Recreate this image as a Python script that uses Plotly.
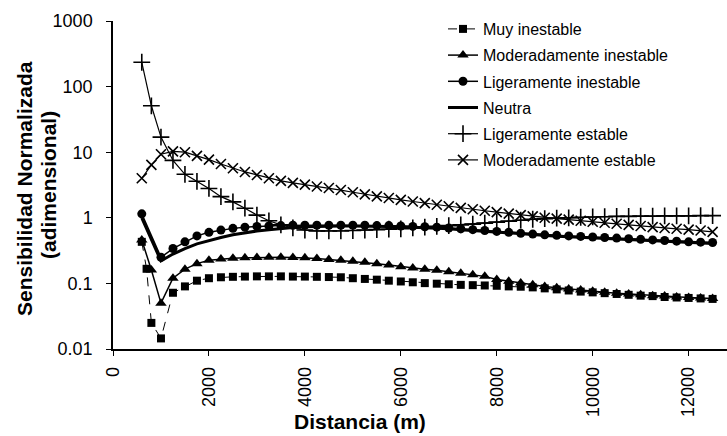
import plotly.graph_objects as go

# Distancia a la fuente (m)
distancias = [600, 700, 800, 1000, 1250, 1500, 1750, 2000, 2250, 2500, 2750, 3000,
              3250, 3500, 3750, 4000, 4250, 4500, 4750, 5000, 5250, 5500, 5750, 6000,
              6250, 6500, 6750, 7000, 7250, 7500, 7750, 8000, 8250, 8500, 8750, 9000,
              9250, 9500, 9750, 10000, 10250, 10500, 10750, 11000, 11250, 11500, 11750,
              12000, 12250, 12500]

muy_inestable = [0.43, 0.167, 0.025, 0.0145, 0.072, 0.09, 0.11, 0.12, 0.124, 0.126, 0.127, 0.128,
                 0.128, 0.128, 0.127, 0.127, 0.126, 0.125, 0.124, 0.12, 0.117, 0.114, 0.11, 0.107,
                 0.104, 0.101, 0.099, 0.097, 0.095, 0.094, 0.093, 0.092, 0.09, 0.089, 0.087, 0.084,
                 0.081, 0.078, 0.075, 0.073, 0.071, 0.069, 0.067, 0.065, 0.064, 0.062, 0.061,
                 0.06, 0.059, 0.058]

mod_inestable = [0.46, None, 0.16, 0.05, 0.12, 0.165, 0.2, 0.225, 0.235, 0.242, 0.245, 0.248,
                 0.25, 0.25, 0.248, 0.245, 0.24, 0.232, 0.225, 0.218, 0.21, 0.2, 0.19, 0.18,
                 0.172, 0.165, 0.158, 0.15, 0.143, 0.135, 0.128, 0.115, 0.108, 0.101, 0.095, 0.09,
                 0.086, 0.082, 0.079, 0.076, 0.073, 0.071, 0.069, 0.067, 0.065, 0.064, 0.062,
                 0.061, 0.06, 0.059]

lig_inestable = [1.15, None, None, 0.25, 0.34, 0.43, 0.53, 0.6, 0.65, 0.69, 0.72, 0.74,
                 0.75, 0.76, 0.77, 0.77, 0.77, 0.77, 0.77, 0.77, 0.77, 0.76, 0.76, 0.75,
                 0.74, 0.73, 0.72, 0.7, 0.68, 0.66, 0.64, 0.62, 0.6, 0.58, 0.565, 0.55,
                 0.54, 0.53, 0.52, 0.51, 0.5, 0.49, 0.48, 0.47, 0.46, 0.45, 0.44,
                 0.43, 0.425, 0.42]

neutra = [1.0, None, None, 0.22, 0.28, 0.34, 0.4, 0.45, 0.5, 0.55, 0.59, 0.63,
          0.66, 0.69, 0.71, 0.73, 0.74, 0.75, 0.75, 0.75, 0.75, 0.74, 0.74, 0.73,
          0.72, 0.71, 0.7, 0.68, 0.66, 0.64, 0.62, 0.6, 0.58, 0.565, 0.55, 0.535,
          0.525, 0.515, 0.505, 0.495, 0.485, 0.475, 0.465, 0.455, 0.445, 0.435, 0.425,
          0.415, 0.41, 0.405]

lig_estable = [235, None, 51, 17, 7.5, 4.6, 3.6, 2.8, 2.1, 1.75, 1.4, 1.1,
               0.9, 0.78, 0.7, 0.65, 0.63, 0.63, 0.63, 0.64, 0.65, 0.66, 0.67, 0.68,
               0.7, 0.72, 0.74, 0.76, 0.78, 0.8, 0.83, 0.86, 0.89, 0.92, 0.95, 0.97,
               0.99, 1.0, 1.02, 1.03, 1.04, 1.05, 1.05, 1.06, 1.06, 1.07, 1.07,
               1.07, 1.08, 1.08]

mod_estable = [4.0, None, 6.4, 9.3, 10.3, 10.0, 8.8, 7.7, 6.6, 5.7, 5.0, 4.5,
               4.0, 3.65, 3.4, 3.2, 3.0, 2.85, 2.65, 2.45, 2.28, 2.12, 2.0, 1.88,
               1.77, 1.67, 1.58, 1.5, 1.42, 1.35, 1.28, 1.22, 1.16, 1.1, 1.05, 1.0,
               0.97, 0.94, 0.9, 0.87, 0.84, 0.81, 0.78, 0.75, 0.72, 0.7, 0.68,
               0.66, 0.64, 0.61]

x_ticks = [0, 2000, 4000, 6000, 8000, 10000, 12000]
x_tick_text = ["0", "2000", "4000", "6000", "8000", "10000", "12000"]
y_ticks = [0.01, 0.1, 1, 10, 100, 1000]
y_tick_text = ["0.01", "0.1", "1", "10", "100", "1000"]

FONT = "Liberation Sans, Arial, sans-serif"
W, H = 727, 436
ML, MR, MT, MB = 113, 0, 21, 87
PW, PH = W - ML - MR, H - MT - MB


def px_x(p):
    return (p - ML) / PW


def px_y(p):
    return (H - MB - p) / PH


series = [
    ("Muy inestable", muy_inestable, dict(symbol="square", size=8), dict(width=1, dash="dash")),
    ("Moderadamente inestable", mod_inestable, dict(symbol="triangle-up", size=10), dict(width=1.5)),
    ("Ligeramente inestable", lig_inestable, dict(symbol="circle", size=9), dict(width=1.5)),
    ("Neutra", neutra, None, dict(width=3)),
    ("Ligeramente estable", lig_estable,
     dict(symbol="cross-thin", size=12, line=dict(width=1.6, color="black")), dict(width=1.2)),
    ("Moderadamente estable", mod_estable,
     dict(symbol="x-thin", size=10, line=dict(width=1.6, color="black")), dict(width=1.2)),
]

fig = go.Figure()
for i, (name, vals, mk, ln) in enumerate(series):
    ln = dict(ln, color="black")
    if mk is None:
        fig.add_trace(go.Scatter(x=distancias, y=vals, name=name, mode="lines",
                                 line=ln, connectgaps=True, legendgroup=f"g{i}"))
    else:
        fig.add_trace(go.Scatter(x=distancias, y=vals, name=name, mode="lines+markers",
                                 line=ln, marker=dict(mk, color="black"),
                                 connectgaps=True, legendgroup=f"g{i}"))

axis_common = dict(showline=True, linecolor="black", linewidth=1.5, ticks="outside",
                   ticklen=5, tickwidth=1.2, tickcolor="black", showgrid=False,
                   zeroline=False, tickfont=dict(family=FONT, size=18, color="black"))

fig.update_xaxes(range=[0, 12800], tickvals=x_ticks, ticktext=x_tick_text, tickangle=-90,
                 ticklabelstandoff=4, **axis_common)
fig.update_yaxes(type="log", range=[-2, 3], tickvals=y_ticks, ticktext=y_tick_text,
                 ticklabelstandoff=10, **axis_common)

title_font = dict(family=FONT, size=21, color="black")
fig.add_annotation(text="<b>Sensibilidad Normalizada</b>", textangle=-90,
                   xref="paper", yref="paper", x=px_x(24), y=px_y(189),
                   xanchor="center", yanchor="middle", showarrow=False, font=title_font)
fig.add_annotation(text="<b>(adimensional)</b>", textangle=-90,
                   xref="paper", yref="paper", x=px_x(48), y=px_y(185),
                   xanchor="center", yanchor="middle", showarrow=False, font=title_font)
fig.add_annotation(text="<b>Distancia (m)</b>",
                   xref="paper", yref="paper", x=px_x(360), y=px_y(421),
                   xanchor="center", yanchor="middle", showarrow=False, font=title_font)

fig.update_layout(
    width=W, height=H,
    margin=dict(l=ML, r=MR, t=MT, b=MB),
    paper_bgcolor="white", plot_bgcolor="white",
    font=dict(family=FONT, color="black"),
    legend=dict(x=px_x(443), y=px_y(12), xanchor="left", yanchor="top",
                font=dict(family=FONT, size=16, color="black"),
                bgcolor="rgba(0,0,0,0)", tracegroupgap=2.4, itemwidth=30),
)

fig.write_html("out.html")
